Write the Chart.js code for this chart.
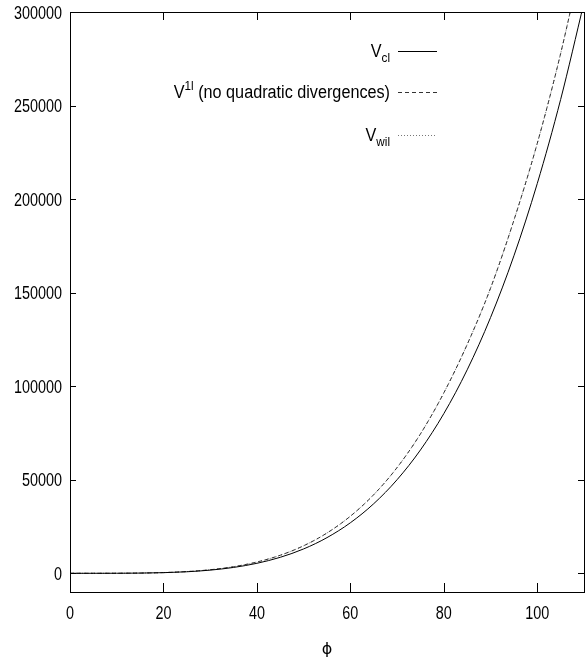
<!DOCTYPE html>
<html>
<head>
<meta charset="utf-8">
<script src="https://cdn.jsdelivr.net/npm/chart.js@4.4.1/dist/chart.umd.min.js"></script>
<style>
  html, body { margin: 0; padding: 0; background: #fff; }
  #wrap { width: 587px; height: 657px; position: relative; }
</style>
</head>
<body>
<div id="wrap"><canvas id="c"></canvas></div>
<script>
// field values phi and the three potentials
const phi = [0, 5, 10, 15, 20, 25, 30, 35, 40, 45, 50, 55, 60, 65, 70, 75, 80, 85, 90, 95, 100, 105, 110];
const vClassical = [0, 1.3, 20.8, 105.5, 333, 814, 1688, 3126, 5333, 8543, 13021, 19064, 27000, 37189, 50021, 65918, 85333, 108751, 136688, 169689, 208333, 253230, 305021];
const vOneLoop = [0, 1.5, 23.5, 119, 377, 920, 1907, 3532, 6030, 9650, 14710, 21540, 30510, 42020, 56520, 74490, 96430, 122300, 152400, 188700, 229800, 277800, 333500];
const vWilson = [0, 1.5, 23.5, 119, 377, 920, 1907, 3532, 6030, 9650, 14710, 21540, 30510, 42020, 56520, 74490, 96430, 122300, 152400, 188700, 229800, 277800, 333500];

const xTicks = [0, 20, 40, 60, 80, 100];
const yTicks = [0, 50000, 100000, 150000, 200000, 250000, 300000];

// legend entries: pieces of text with sub/superscripts
const legendText = [
  [{ t: 'V', m: 'n' }, { t: 'cl', m: 'sub' }],
  [{ t: 'V', m: 'n' }, { t: '1l', m: 'sup' }, { t: ' (no quadratic divergences)', m: 'n' }],
  [{ t: 'V', m: 'n' }, { t: 'wil', m: 'sub' }]
];

const FONT = "'Liberation Sans', Arial, sans-serif";
const TICK_SQUEEZE = 0.8;   // horizontal squeeze for a Helvetica-Narrow look
const KEY_SQUEEZE = 0.9;

function pts(ys) { return phi.map((x, i) => ({ x: x, y: ys[i] })); }

function textWidth(ctx, s, size, sx) {
  ctx.font = size + 'px ' + FONT;
  return ctx.measureText(s).width * sx;
}
// draw text left-aligned at (x, baseline y), squeezed horizontally
function narrowText(ctx, s, x, y, size, sx) {
  ctx.save();
  ctx.font = size + 'px ' + FONT;
  ctx.textAlign = 'left';
  ctx.textBaseline = 'alphabetic';
  ctx.fillStyle = '#000';
  ctx.translate(x, y);
  ctx.scale(sx, 1);
  ctx.fillText(s, 0, 0);
  ctx.restore();
}

// box frame with inward ticks on all four sides, plus tick labels and axis title
const frame = {
  id: 'frame',
  afterDraw(chart) {
    const { ctx, chartArea: a, scales } = chart;
    ctx.save();
    ctx.strokeStyle = '#000';
    ctx.lineWidth = 1;
    ctx.strokeRect(Math.round(a.left) + 0.5, Math.round(a.top) + 0.5,
                   Math.round(a.right - a.left), Math.round(a.bottom - a.top));
    ctx.beginPath();
    scales.x.ticks.forEach(t => {
      const px = Math.round(scales.x.getPixelForValue(t.value)) + 0.5;
      ctx.moveTo(px, a.bottom); ctx.lineTo(px, a.bottom - 9);
      ctx.moveTo(px, a.top); ctx.lineTo(px, a.top + 8);
    });
    scales.y.ticks.forEach(t => {
      const py = Math.round(scales.y.getPixelForValue(t.value)) + 0.5;
      ctx.moveTo(a.left, py); ctx.lineTo(a.left + 6, py);
      ctx.moveTo(a.right, py); ctx.lineTo(a.right - 6, py);
    });
    ctx.stroke();
    ctx.restore();

    const size = 18, sx = TICK_SQUEEZE;
    scales.x.ticks.forEach(t => {
      const s = String(t.value);
      const px = scales.x.getPixelForValue(t.value);
      narrowText(ctx, s, px - textWidth(ctx, s, size, sx) / 2, a.bottom + 27, size, sx);
    });
    scales.y.ticks.forEach(t => {
      const s = String(t.value);
      const py = scales.y.getPixelForValue(t.value);
      narrowText(ctx, s, a.left - 8 - textWidth(ctx, s, size, sx), py + 6.5, size, sx);
    });

    // axis title
    ctx.save();
    ctx.font = "16px 'DejaVu Sans', sans-serif";
    ctx.textAlign = 'center';
    ctx.textBaseline = 'alphabetic';
    ctx.fillStyle = '#000';
    ctx.fillText(scales.x.options.title.text, (a.left + a.right) / 2, a.bottom + 62);
    ctx.restore();
  }
};

// gnuplot-style key: text right-aligned, line sample to its right
const key = {
  id: 'key',
  afterDraw(chart) {
    const ctx = chart.ctx;
    const rows = [51, 92, 135];
    const textRight = 390, lineL = 398, lineR = 437;
    const sx = KEY_SQUEEZE;
    chart.data.datasets.forEach((ds, i) => {
      const y = rows[i];
      const parts = legendText[i];
      const big = 18, small = 13;
      let w = 0;
      parts.forEach(p => { w += textWidth(ctx, p.t, p.m === 'n' ? big : small, sx); });
      let x = textRight - w;
      parts.forEach(p => {
        const sz = p.m === 'n' ? big : small;
        let by = y + 6;
        if (p.m === 'sub') by = y + 11;
        if (p.m === 'sup') by = y - 2;
        narrowText(ctx, p.t, x, by, sz, sx);
        x += textWidth(ctx, p.t, sz, sx);
      });
      ctx.save();
      ctx.strokeStyle = ds.borderColor;
      ctx.lineWidth = ds.borderWidth;
      ctx.setLineDash(ds.borderDash || []);
      ctx.beginPath();
      ctx.moveTo(lineL, y + 0.5);
      ctx.lineTo(lineR, y + 0.5);
      ctx.stroke();
      ctx.restore();
    });
  }
};

new Chart(document.getElementById('c'), {
  type: 'line',
  data: {
    datasets: [
      { label: 'V_cl', data: pts(vClassical), borderColor: '#000', borderWidth: 1, borderDash: [] },
      { label: 'V^1l (no quadratic divergences)', data: pts(vOneLoop), borderColor: '#333', borderWidth: 1, borderDash: [4, 3] },
      { label: 'V_wil', data: pts(vWilson), borderColor: '#777', borderWidth: 1, borderDash: [1, 2] }
    ]
  },
  options: {
    responsive: true,
    maintainAspectRatio: false,
    animation: false,
    events: [],
    layout: { padding: { top: 12, right: 3, left: 0, bottom: 0 } },
    elements: {
      point: { radius: 0 },
      line: { cubicInterpolationMode: 'monotone', fill: false }
    },
    plugins: { legend: { display: false }, tooltip: { enabled: false } },
    scales: {
      x: {
        type: 'linear', min: 0, max: 110,
        afterBuildTicks: s => { s.ticks = xTicks.map(v => ({ value: v })); },
        afterFit: s => { s.height = 65; },
        grid: { display: false },
        border: { display: false },
        ticks: { display: false },
        title: { display: false, text: 'ϕ' }
      },
      y: {
        type: 'linear', min: -10000, max: 300000,
        afterBuildTicks: s => { s.ticks = yTicks.map(v => ({ value: v })); },
        afterFit: s => { s.width = 70; },
        grid: { display: false },
        border: { display: false },
        ticks: { display: false }
      }
    }
  },
  plugins: [frame, key]
});
</script>
</body>
</html>
